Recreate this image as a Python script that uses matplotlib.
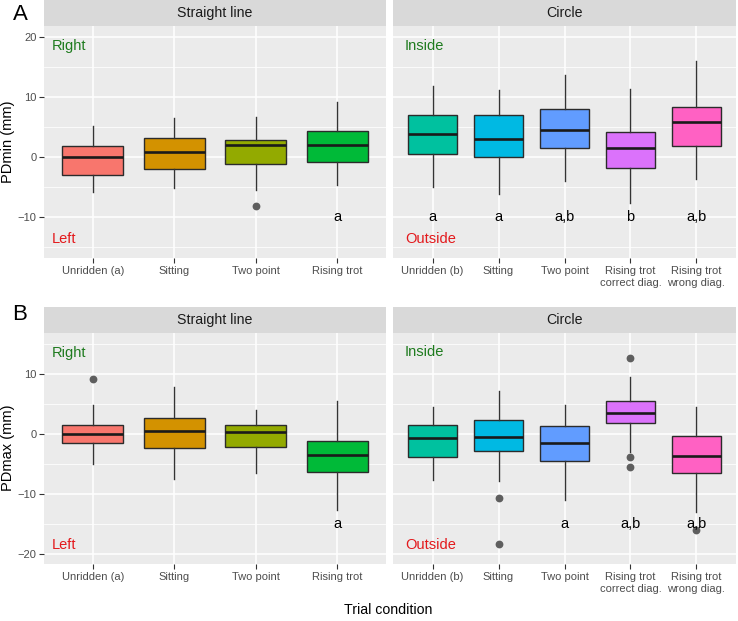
import numpy as np
import matplotlib.pyplot as plt

plt.rcParams['font.family'] = ['Liberation Sans', 'DejaVu Sans']

# categorias y colores (paleta hue de ggplot)
cat_recta = ["Unridden (a)", "Sitting", "Two point", "Rising trot"]
cat_circulo = ["Unridden (b)", "Sitting", "Two point", "Rising trot\ncorrect diag.", "Rising trot\nwrong diag."]
colores = ["#F8766D", "#D39200", "#93AA00", "#00BA38",
           "#00C19F", "#00B9E3", "#619CFF", "#DB72FB", "#FF61C3"]

# estadisticos de caja (whislo, q1, med, q3, whishi)
# A: PDmin
pdmin_recta = [(-5.8, -2.9, 0.05, 1.9, 5.2),
               (-5.1, -1.9, 0.9, 3.1, 6.5),
               (-5.4, -1.2, 2.0, 2.8, 6.7),
               (-4.7, -0.9, 2.0, 4.3, 9.1)]
pdmin_recta_out = [[], [], [-8.1], []]
pdmin_circ = [(-4.95, 0.5, 3.9, 7.0, 11.8),
              (-6.1, 0.0, 3.05, 6.9, 11.2),
              (-3.9, 1.45, 4.55, 8.0, 13.7),
              (-7.6, -1.8, 1.5, 4.2, 11.3),
              (-3.6, 1.8, 5.9, 8.3, 15.9)]
pdmin_circ_out = [[], [], [], [], []]
letras_A_recta = ["", "", "", "a"]
letras_A_circ = ["a", "a", "a,b", "b", "a,b"]

# B: PDmax
pdmax_recta = [(-5.05, -1.5, -0.1, 1.4, 4.7),
               (-7.6, -2.45, 0.35, 2.55, 7.7),
               (-6.6, -2.2, 0.17, 1.45, 3.95),
               (-12.7, -6.45, -3.55, -1.3, 5.35)]
pdmax_recta_out = [[9.1], [], [], []]
pdmax_circ = [(-7.7, -3.95, -0.8, 1.35, 4.4),
              (-7.9, -2.9, -0.55, 2.2, 7.1),
              (-11.05, -4.5, -1.5, 1.2, 4.7),
              (-3.0, 1.67, 3.45, 5.4, 9.35),
              (-13.1, -6.55, -3.8, -0.38, 4.35)]
pdmax_circ_out = [[], [-10.7, -18.4], [], [12.55, -3.85, -5.6], [-16.05]]
letras_B_recta = ["", "", "", "a"]
letras_B_circ = ["", "", "a", "a,b", "a,b"]

W, H = 738, 621
fig = plt.figure(figsize=(W/100, H/100), dpi=100, facecolor='white')


def caja_panel(rect, stats, outs, cats, cols, ylim, yticks, minors, letras, y_letra,
               txt_arr, txt_abj, y_arr, y_abj, x_txt, strip, etiquetas_y=True):
    x0, y0, x1, y1 = rect
    ax = fig.add_axes([x0/W, 1 - y1/H, (x1-x0)/W, (y1-y0)/H])
    ax.set_facecolor('#EBEBEB')
    for s in ax.spines.values():
        s.set_visible(False)
    n = len(cats)
    pos = np.arange(1, n+1)
    datos = []
    for (lo, q1, me, q3, hi), o in zip(stats, outs):
        datos.append({"whislo": lo, "q1": q1, "med": me, "q3": q3, "whishi": hi, "fliers": o})
    bp = ax.bxp(datos, positions=pos, widths=0.75, patch_artist=True, showcaps=False,
                boxprops=dict(edgecolor='#2b2b2b', linewidth=1.0),
                whiskerprops=dict(color='#333333', linewidth=1.0),
                medianprops=dict(color='#1a1a1a', linewidth=1.9),
                flierprops=dict(marker='o', markerfacecolor='#5e5e5e', markeredgecolor='#5e5e5e',
                                markersize=4.6), zorder=3)
    for patch, c in zip(bp['boxes'], cols):
        patch.set_facecolor(c)
    ax.set_xlim(0.4, n + 0.6)
    ax.set_ylim(*ylim)
    ax.set_yticks(yticks)
    ax.set_yticks(minors, minor=True)
    ax.set_xticks(pos)
    ax.set_xticklabels(cats, fontsize=8, color='#4D4D4D', linespacing=1.25)
    ax.grid(True, which='major', color='white', linewidth=1.1, zorder=0)
    ax.grid(True, which='minor', axis='y', color='white', linewidth=0.55, zorder=0)
    ax.set_axisbelow(True)
    ax.tick_params(axis='both', which='major', length=3.5, width=0.8, color='#333333',
                   labelcolor='#4D4D4D', labelsize=8, pad=2)
    ax.tick_params(axis='y', which='minor', length=0)
    if etiquetas_y:
        ax.set_yticklabels([str(t).replace('-', '\u2212') for t in yticks])
    else:
        ax.tick_params(axis='y', which='major', length=0, labelleft=False)
    for p, l in zip(pos, letras):
        if l:
            ax.text(p, y_letra, l, ha='center', va='center', fontsize=10.5, color='black', zorder=4)
    ax.text(x_txt, y_arr, txt_arr, ha='left', va='center', fontsize=10.5, color='#1e7b1e')
    ax.text(x_txt, y_abj, txt_abj, ha='left', va='center', fontsize=10.5, color='#e3191c')
    # franja del facet
    sy0, sy1, titulo = strip
    sa = fig.add_axes([x0/W, 1 - sy1/H, (x1-x0)/W, (sy1-sy0)/H])
    sa.set_facecolor('#D9D9D9')
    sa.set_xticks([]); sa.set_yticks([])
    for s in sa.spines.values():
        s.set_visible(False)
    sa.text(0.5, 0.5, titulo, ha='center', va='center', fontsize=10.2, color='#1A1A1A',
            transform=sa.transAxes)
    return ax


# Panel A
caja_panel((44, 26, 386, 258), pdmin_recta, pdmin_recta_out, cat_recta, colores[:4],
           (-16.75, 21.75), [-10, 0, 10, 20], [-15, -5, 5, 15], letras_A_recta, -10,
           "Right", "Left", 18.5, -13.6, 0.5, (0, 26, "Straight line"))
caja_panel((393, 26, 736, 258), pdmin_circ, pdmin_circ_out, cat_circulo, colores[4:],
           (-16.75, 21.75), [-10, 0, 10, 20], [-15, -5, 5, 15], letras_A_circ, -10,
           "Inside", "Outside", 18.5, -13.6, 0.58, (0, 26, "Circle"), etiquetas_y=False)

# Panel B
caja_panel((44, 333, 386, 564), pdmax_recta, pdmax_recta_out, cat_recta, colores[:4],
           (-21.75, 16.75), [-20, -10, 0, 10], [-15, -5, 5, 15], letras_B_recta, -15,
           "Right", "Left", 13.5, -18.6, 0.5, (307, 333, "Straight line"))
caja_panel((393, 333, 736, 564), pdmax_circ, pdmax_circ_out, cat_circulo, colores[4:],
           (-21.75, 16.75), [-20, -10, 0, 10], [-15, -5, 5, 15], letras_B_circ, -15,
           "Inside", "Outside", 13.5, -18.6, 0.58, (307, 333, "Circle"), etiquetas_y=False)

# textos generales
fig.text(8/W, 1 - 142/H, "PDmin (mm)", rotation=90, ha='center', va='center', fontsize=10.5)
fig.text(8/W, 1 - 448/H, "PDmax (mm)", rotation=90, ha='center', va='center', fontsize=10.5)
fig.text(388/W, 1 - 610/H, "Trial condition", ha='center', va='center', fontsize=10.2)
fig.text(20/W, 1 - 14/H, "A", ha='center', va='center', fontsize=16)
fig.text(20/W, 1 - 315/H, "B", ha='center', va='center', fontsize=16)

fig.savefig("out.png", dpi=100, facecolor='white')
